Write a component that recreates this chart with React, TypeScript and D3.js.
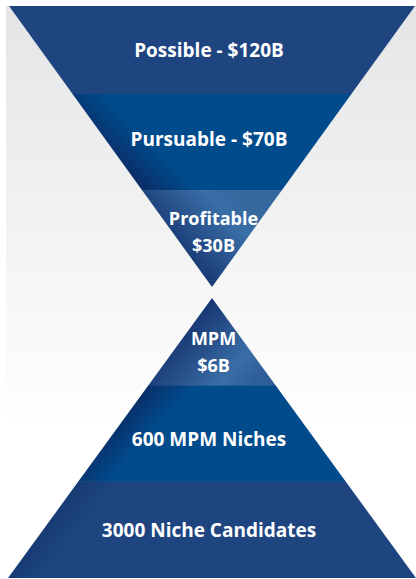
import React from "react";
import * as d3 from "d3";

const topLabels: string[][] = [["Possible - $120B"], ["Pursuable - $70B"], ["Profitable", "$30B"]];
const bottomLabels: string[][] = [["MPM", "$6B"], ["600 MPM Niches"], ["3000 Niche Candidates"]];
const topValues = [120, 70, 30];
const bottomValues = [6, 600, 3000];

const W = 416;
const H = 579;

export default function App() {
  const cx = 212;
  const topY0 = 6, topApex = 287, topHalf = 203;
  const botApex = 298, botY1 = 578, botHalf = 204;
  const bandFrac = [0, 0.313, 0.655, 1];

  const yTop = d3.scaleLinear().domain([0, 1]).range([topY0, topApex]);
  const yBot = d3.scaleLinear().domain([0, 1]).range([botApex, botY1]);

  const topTri = `M${cx - topHalf},${topY0} L${cx + topHalf},${topY0} L${cx},${topApex} Z`;
  const botTri = `M${cx},${botApex} L${cx + botHalf},${botY1} L${cx - botHalf},${botY1} Z`;

  const topFills = ["#1e4580", "url(#gMidTop)", "url(#gLightTop)"];
  const botFills = ["url(#gLightBot)", "url(#gMidBot)", "url(#gDarkBot)"];

  const topBaselines = [[57], [146], [225, 252]];
  const botBaselines = [[345, 372], [446], [537]];

  const font = "'Open Sans', Lato, sans-serif";
  const labelX = (lines: string[]) => (lines.length > 1 ? 213.5 : 209);
  const labelSize = (lines: string[]) => (lines.length > 1 ? 18 : 19);

  return (
    <div style={{ position: "fixed", left: 0, top: 0, width: W, height: H }}>
      <svg width={W} height={H} style={{ display: "block" }}>
        <defs>
          <linearGradient id="bg" x1="0" y1={topY0} x2="0" y2="430" gradientUnits="userSpaceOnUse">
            <stop offset="0" stopColor="#e4e5e6" />
            <stop offset="1" stopColor="#ffffff" />
          </linearGradient>
          <clipPath id="clipTop"><path d={topTri} /></clipPath>
          <clipPath id="clipBot"><path d={botTri} /></clipPath>
          <linearGradient id="gMidTop" gradientUnits="userSpaceOnUse" x1="140" y1="188" x2="168" y2="160">
            <stop offset="0" stopColor="#0b2c66" />
            <stop offset="1" stopColor="#004b8c" />
          </linearGradient>
          <linearGradient id="gLightTop" gradientUnits="userSpaceOnUse" x1="175" y1="265" x2="245" y2="200">
            <stop offset="0" stopColor="#122f6b" />
            <stop offset="0.75" stopColor="#3a6ea6" />
            <stop offset="1" stopColor="#35689f" />
          </linearGradient>
          <linearGradient id="gLightBot" gradientUnits="userSpaceOnUse" x1="185" y1="315" x2="255" y2="380">
            <stop offset="0" stopColor="#122f6b" />
            <stop offset="0.75" stopColor="#3a6ea6" />
            <stop offset="1" stopColor="#2f5f98" />
          </linearGradient>
          <linearGradient id="gMidBot" gradientUnits="userSpaceOnUse" x1="140" y1="390" x2="168" y2="415">
            <stop offset="0" stopColor="#0b2c66" />
            <stop offset="1" stopColor="#004b8c" />
          </linearGradient>
          <linearGradient id="gDarkBot" gradientUnits="userSpaceOnUse" x1="70" y1="490" x2="95" y2="510">
            <stop offset="0" stopColor="#163a72" />
            <stop offset="1" stopColor="#1e4580" />
          </linearGradient>
        </defs>
        <rect x={0} y={0} width={W} height={H} fill="#ffffff" />
        <rect x={6} y={topY0} width={W - 6} height={H - topY0} fill="url(#bg)" />

        <g clipPath="url(#clipTop)">
          {topValues.map((v, i) => (
            <rect key={v} x={0} width={W} y={yTop(bandFrac[i])} height={yTop(bandFrac[i + 1]) - yTop(bandFrac[i]) + (i < 2 ? 0.5 : 0)} fill={topFills[i]} />
          ))}
        </g>
        <g clipPath="url(#clipBot)">
          {bottomValues.map((v, i) => (
            <rect key={v} x={0} width={W} y={yBot(bandFrac[i])} height={yBot(bandFrac[i + 1]) - yBot(bandFrac[i]) + (i < 2 ? 0.5 : 0)} fill={botFills[i]} />
          ))}
        </g>

        {topLabels.map((lines, i) =>
          lines.map((t, j) => (
            <text key={`t${i}${j}`} x={labelX(lines)} y={topBaselines[i][j]} textAnchor="middle" fill="#ffffff" fontFamily={font} fontWeight={700} fontSize={labelSize(lines)}>
              {t}
            </text>
          ))
        )}
        {bottomLabels.map((lines, i) =>
          lines.map((t, j) => (
            <text key={`b${i}${j}`} x={labelX(lines)} y={botBaselines[i][j]} textAnchor="middle" fill="#ffffff" fontFamily={font} fontWeight={700} fontSize={labelSize(lines)}>
              {t}
            </text>
          ))
        )}
      </svg>
    </div>
  );
}
